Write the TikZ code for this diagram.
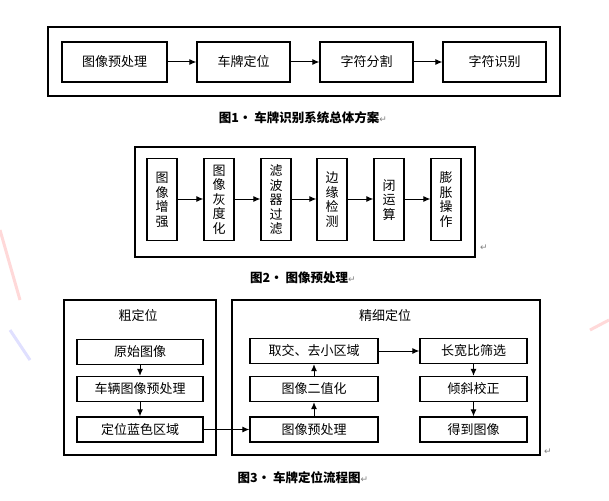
\documentclass[tikz,border=0pt]{standalone}
\usepackage{fontspec}
\setmainfont{Noto Sans CJK SC}
\newfontfamily\djv{DejaVu Sans}
\usetikzlibrary{arrows.meta}
\newcommand{\rt}{\textcolor{gray}{\normalfont\djv\fontsize{9}{9}\selectfont ↵}}
\begin{document}
\begin{tikzpicture}[x=1pt,y=-1pt,
 bx/.style={draw,line width=1.3pt,inner sep=0pt,font=\fontsize{13}{15}\selectfont},
 outer/.style={draw,line width=1.3pt},
 ar/.style={-{Latex[length=7pt,width=6pt]},line width=1pt},
 captxt/.style={font=\fontsize{12.5}{14}\selectfont\bfseries}]
\useasboundingbox[fill=white] (0,0) rectangle (609,500);
\draw[red!15,line width=3pt] (0,230) -- (20,300) (590,330)--(609,320);
\draw[blue!12,line width=3pt] (10,330) -- (30,360);
% Fig 1
\draw[outer] (48,27) rectangle (560,96);
\node[bx,minimum width=105,minimum height=40] (a1) at (114.5,62) {图像预处理};
\node[bx,minimum width=93,minimum height=40] (a2) at (243.5,62) {车牌定位};
\node[bx,minimum width=93,minimum height=40] (a3) at (366.5,62) {字符分割};
\node[bx,minimum width=103,minimum height=40] (a4) at (494.5,62) {字符识别};
\draw[ar] (a1)--(a2); \draw[ar] (a2)--(a3); \draw[ar] (a3)--(a4);
\node[captxt] (c1) at (303,118) {图1· 车牌识别系统总体方案\rt};
% Fig 2
\draw[outer] (135,147) rectangle (475,257);
\node (r2m) at (484,248) {\rt};
\foreach \i/\x/\t in {1/162/{图\\像\\增\\强},2/219/{图\\像\\灰\\度\\化},3/276/{滤\\波\\器\\过\\滤},4/332/{边\\缘\\检\\测},5/389/{闭\\运\\算},6/446/{膨\\胀\\操\\作}}
  \node[bx,minimum width=30,minimum height=82,align=center,anchor=north,font=\fontsize{13}{14.5}\selectfont,inner ysep=4pt] (b\i) at (\x,158) {\t};
\foreach \i/\j in {1/2,2/3,3/4,4/5,5/6} \draw[ar] (b\i.east|-0,199)--(b\j.west|-0,199);
\node[captxt] (c2) at (303,278) {图2· 图像预处理\rt};
% Fig 3
\draw[outer] (64,300) rectangle (216,455);
\draw[outer] (232,300) rectangle (540,455);
\node (r3m) at (548,452) {\rt};
\node[font=\fontsize{13}{15}\selectfont] (t1) at (138,316) {粗定位};
\node[font=\fontsize{13}{15}\selectfont] (t2) at (385,316) {精细定位};
\tikzset{b3/.style={bx,minimum width=126,minimum height=25}}
\node[b3] (l1) at (140,352) {原始图像};
\node[b3] (l2) at (140,389) {车辆图像预处理};
\node[b3] (l3) at (140,429.5) {定位蓝色区域};
\node[b3,minimum width=128] (m1) at (314,351) {取交、去小区域};
\node[b3,minimum width=128] (m2) at (314,389) {图像二值化};
\node[b3,minimum width=128] (m3) at (314,429.5) {图像预处理};
\node[b3,minimum width=107] (r1) at (473.5,351) {长宽比筛选};
\node[b3,minimum width=107] (r2) at (473.5,389) {倾斜校正};
\node[b3,minimum width=107] (r3) at (473.5,429.5) {得到图像};
\draw[ar] (l1)--(l2); \draw[ar] (l2)--(l3); \draw[ar] (l3)--(m3);
\draw[ar] (m3)--(m2); \draw[ar] (m2)--(m1); \draw[ar] (m1)--(r1);
\draw[ar] (r1)--(r2); \draw[ar] (r2)--(r3);
\node[captxt] (c3) at (303,478) {图3· 车牌定位流程图\rt};
\end{tikzpicture}
\end{document}
